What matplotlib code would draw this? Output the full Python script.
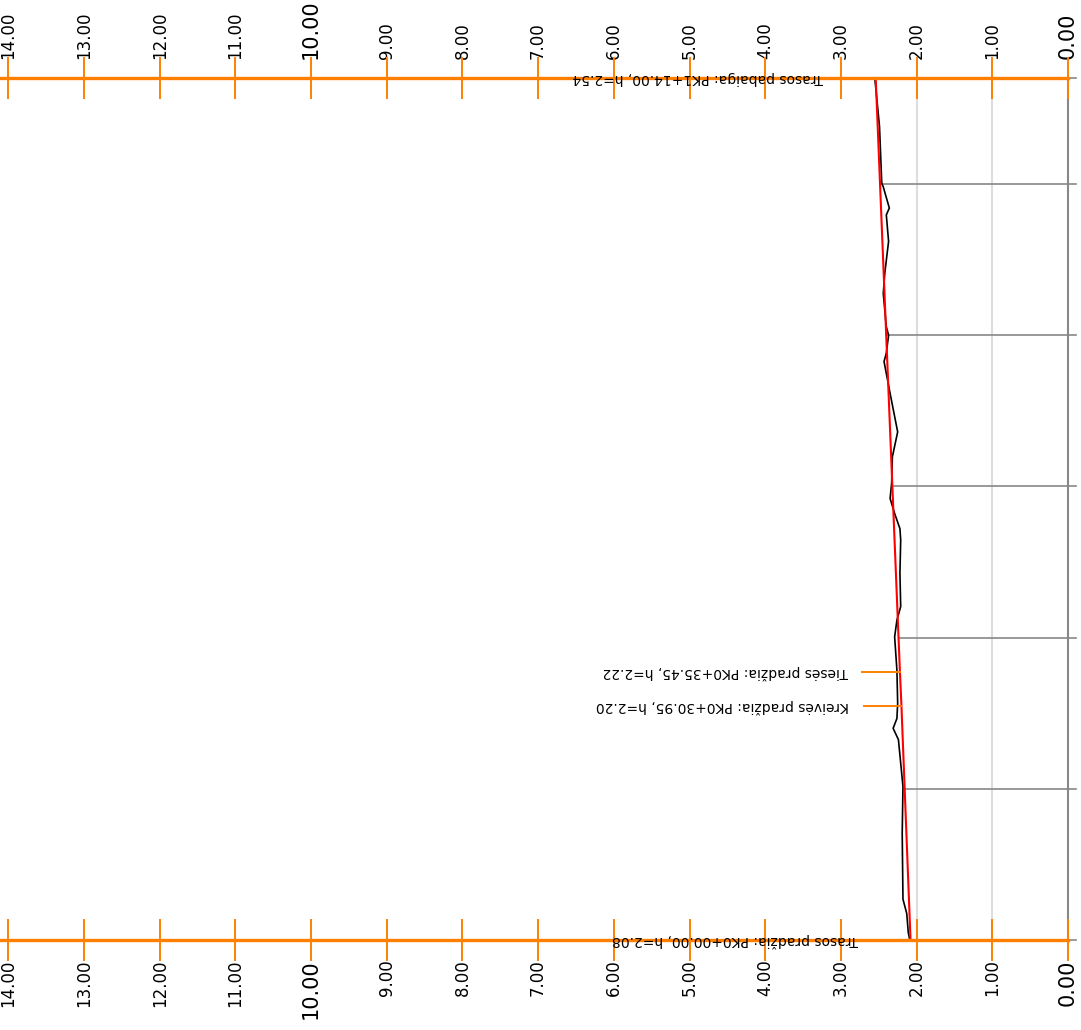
import numpy as np
import matplotlib.pyplot as plt

# chainage (m) and ground elevation (m) of the surveyed profile
ground_ch = [0.0, 1.0, 3.5, 5.4, 14.1, 20.3, 26.5, 28.0, 29.3, 31.3, 35.7, 40.1, 42.3, 44.1,
             48.5, 52.9, 54.4, 56.4, 58.4, 60.4, 63.9, 67.2, 72.3, 76.5, 77.6, 80.0, 81.1,
             85.5, 88.2, 92.4, 95.9, 96.8, 99.6, 100.1, 107.6, 113.8, 114.0]
ground_h = [2.09, 2.11, 2.13, 2.18, 2.19, 2.18, 2.24, 2.31, 2.26, 2.25, 2.26, 2.29, 2.26, 2.21,
            2.22, 2.21, 2.22, 2.29, 2.35, 2.33, 2.32, 2.25, 2.35, 2.43, 2.40, 2.37, 2.40,
            2.44, 2.42, 2.37, 2.40, 2.36, 2.44, 2.46, 2.49, 2.55, 2.57]

# design grade line
design_ch = [0.0, 30.95, 35.45, 114.0]
design_h = [2.08, 2.20, 2.22, 2.54]

# labelled points
end_ch = [0.0, 114.0]
end_h = [2.08, 2.54]
end_labels = ['Trasos pradžia: PK0+00.00, h=2.08', 'Trasos pabaiga: PK1+14.00, h=2.54']
mid_ch = [30.95, 35.45]
mid_h = [2.20, 2.22]
mid_labels = ['Kreivės pradžia: PK0+30.95, h=2.20', 'Tiesės pradžia: PK0+35.45, h=2.22']

grid_ch = [0, 20, 40, 60, 80, 100, 114]
tick_vals = list(range(0, 15))

orange = '#ff8000'

fig = plt.figure(figsize=(10.81, 10.30), dpi=100)
ax = fig.add_axes([0, 0, 1, 1])
ax.set_xlim(14.109, -0.172)
ax.set_ylim(-11.90, 124.32)
ax.axis('off')

ch_min, ch_max = min(end_ch), max(end_ch)
tick_len = 2.65

# light vertical grid lines
for v in [1, 2]:
    ax.plot([v, v], [ch_min, ch_max], color='#dddddd', lw=1.5, zorder=1)
ax.plot([0, 0], [ch_min, ch_max], color='#888888', lw=1.5, zorder=1)

# horizontal station lines from design grade to the datum
for c in grid_ch:
    hd = np.interp(c, design_ch, design_h)
    ax.plot([hd, -0.1], [c, c], color='#888888', lw=1.2, zorder=1)

ax.plot(ground_h, ground_ch, color='black', lw=1.2, zorder=3)
ax.plot(design_h, design_ch, color='red', lw=1.5, zorder=4)

# top and bottom scale bars
for c, sgn in [(ch_min, -1), (ch_max, 1)]:
    ax.plot([14.2, 0], [c, c], color=orange, lw=2.4, zorder=5)
    for v in tick_vals:
        ax.plot([v, v], [c - tick_len, c + tick_len], color=orange, lw=1.4, zorder=5)
        big = v in (0, 10)
        ax.annotate('%.2f' % v, (v, c), xytext=(0, sgn * 14), textcoords='offset points',
                    rotation=90, ha='center', va='bottom' if sgn > 0 else 'top',
                    fontsize=15 if big else 12, color='black')

for c, h, lab in zip(end_ch, end_h, end_labels):
    ax.text(h + 0.69, c, lab, rotation=180, rotation_mode='anchor', ha='left', va='center',
            fontsize=10, color='black', zorder=6)

for c, h, lab in zip(mid_ch, mid_h, mid_labels):
    ax.plot([h, h + 0.5], [c, c], color=orange, lw=1.4, zorder=5)
    ax.text(h + 0.69, c, lab, rotation=180, rotation_mode='anchor', ha='left', va='center',
            fontsize=10, color='black', zorder=6)

fig.savefig('out.png', dpi=100)
